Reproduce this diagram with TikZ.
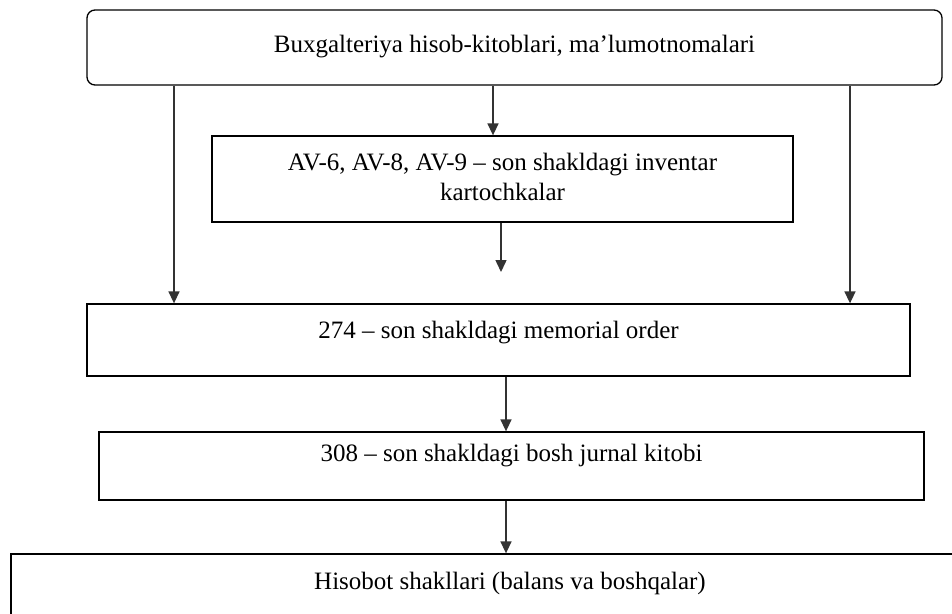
\documentclass[tikz,border=0pt]{standalone}
\usepackage{fontspec}
\setmainfont{Liberation Serif}
\usetikzlibrary{arrows.meta}

\begin{document}
\begin{tikzpicture}[x=1pt,y=-1pt,
  box/.style={draw,line width=1.3pt,inner sep=0pt,align=center,text height=18pt,
    font=\fontsize{25}{30}\selectfont},
  arr/.style={-{Triangle[width=11pt,length=12pt]},line width=1.5pt,draw=black!80}]
\useasboundingbox (0,0) rectangle (952,613);
\clip (0,0) rectangle (952,613);

\node[box,rounded corners=8pt,minimum width=855pt,minimum height=75pt,text depth=9pt] (src) at (514.5,47.5) {Buxgalteriya hisob-kitoblari, ma’lumotnomalari};
\node[box,minimum width=581pt,minimum height=86pt,text height=48pt,text depth=6pt] (cards) at (502.5,179) {AV-6, AV-8, AV-9 – son shakldagi inventar\\kartochkalar};
\node[box,minimum width=823pt,minimum height=72pt,text depth=22pt] (memo) at (498.5,340) {274 – son shakldagi memorial order};
\node[box,minimum width=825pt,minimum height=68pt,text depth=28pt] (journal) at (511.5,466) {308 – son shakldagi bosh jurnal kitobi};
\node[box,minimum width=998pt,minimum height=80pt,text depth=28pt] (report) at (510,594) {Hisobot shakllari (balans va boshqalar)};

% columns of the arrows
\coordinate (colL) at (174,0);
\coordinate (colM) at (493,0);
\coordinate (colR) at (850,0);
\coordinate (colC) at (501,0);
\coordinate (colD) at (506,0);
\coordinate (cardsEnd) at (501,272);

\draw[arr] (src.south -| colL) -- (memo.north -| colL);
\draw[arr] (src.south -| colM) -- (cards.north -| colM);
\draw[arr] (src.south -| colR) -- (memo.north -| colR);
\draw[arr] (cards.south -| colC) -- (cardsEnd);
\draw[arr] (memo.south -| colD) -- (journal.north -| colD);
\draw[arr] (journal.south -| colD) -- (report.north -| colD);
\end{tikzpicture}
\end{document}
